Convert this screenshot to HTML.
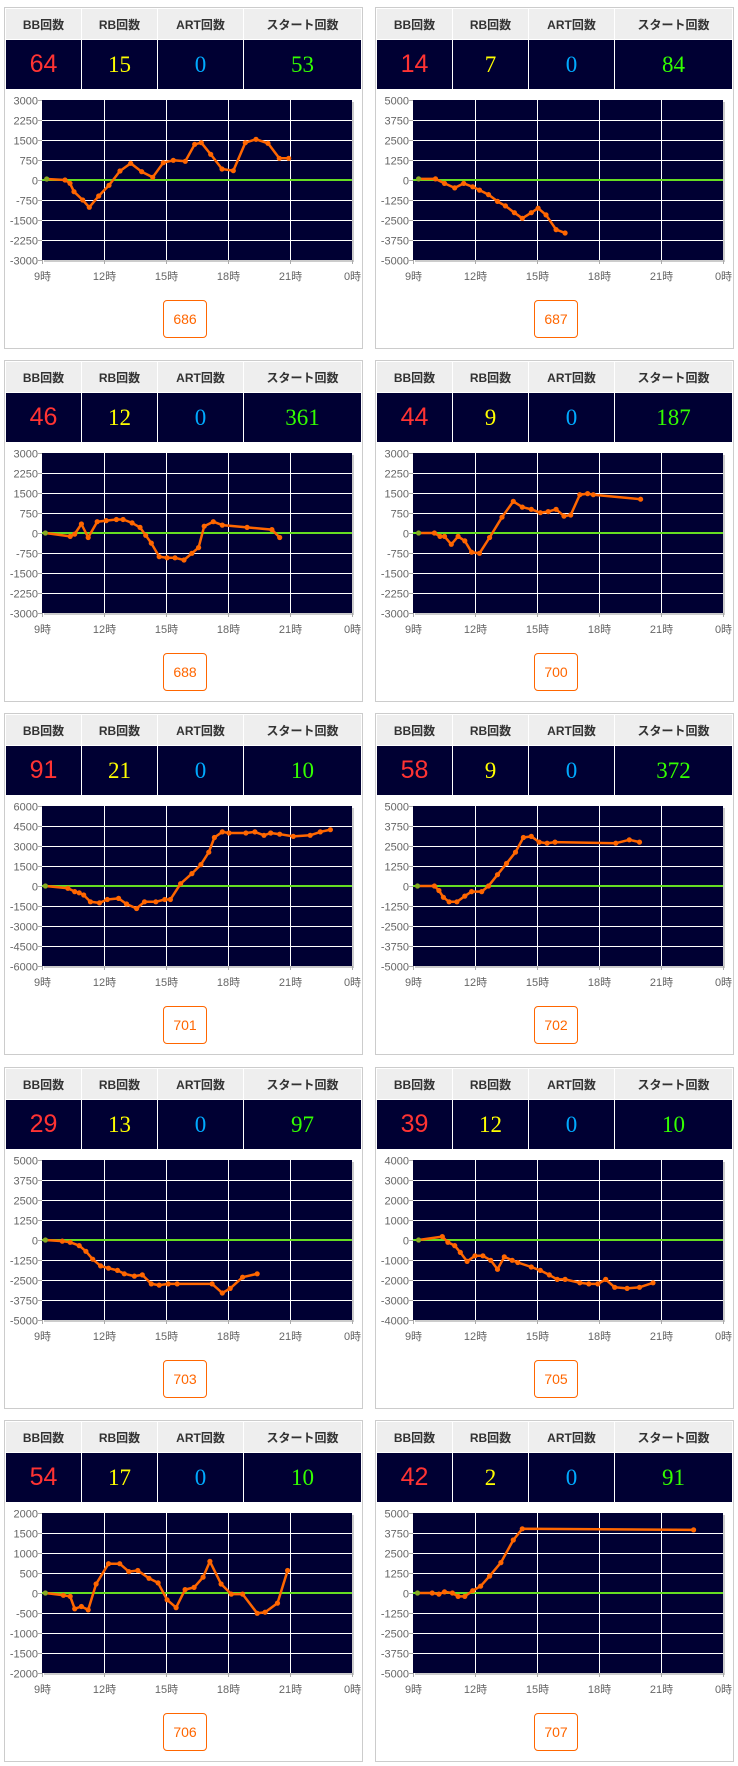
<!DOCTYPE html>
<html><head><meta charset="utf-8">
<style>
body{margin:0;background:#fff;width:738px;height:1766px;position:relative;overflow:hidden;font-family:"Liberation Sans","Noto Sans CJK JP",sans-serif}
.card{position:absolute;width:357px;height:340px;border:1px solid #ccc;background:#fff}
.hdr,.val{position:absolute;left:1px;width:355px;display:flex}
.hdr{top:1px;height:30px;background:#eee}
.val{top:32px;height:49px;background:#000033}
.hdr div,.val div{display:flex;align-items:center;justify-content:center;box-sizing:border-box;border-right:1px solid #fff}
.hdr div{font-size:12px;font-weight:bold;color:#333}
.val div{font-size:23px;font-family:"Liberation Serif",serif}
.c1{width:76px}.c2{width:76px}.c3{width:86px}.c4{width:117px;border-right:none!important}
.btn{position:absolute;left:158px;top:292px;width:42px;height:36px;border:1px solid #f60;border-radius:4px;color:#f60;font-size:14px;display:flex;align-items:center;justify-content:center}
svg{position:absolute;left:0;top:0}
</style></head><body>
<div id="root"></div>
<svg id="s" width="738" height="1766" xmlns="http://www.w3.org/2000/svg"></svg>
<script>
var k=738/655;
var data=[
[64,15,0,53,686,3000,0,88,"zoom"],
[14,7,0,84,687,5000,1,88,[[370,158],[385,158],[393,162],[402,166],[410,162],[418,165],[424,168],[432,172],[440,178],[447,182],[455,188],[462,193],[470,188],[476,184],[483,190],[492,203],[500,206]]],
[46,12,0,361,688,3000,0,401,[[40,472],[62,475],[66,473],[72,464],[78,476],[86,462],[94,461],[103,460],[109,460],[117,463],[124,467],[129,474],[134,481],[141,493],[148,494],[155,494],[163,496],[170,490],[176,485],[181,466],[189,462],[197,465],[219,467],[241,469],[248,476]]],
[44,9,0,187,700,3000,1,401,[[370,472],[384,472],[389,475],[393,475],[399,482],[405,475],[411,479],[417,489],[424,490],[433,476],[444,458],[454,444],[462,449],[470,451],[478,454],[485,453],[492,451],[499,457],[505,456],[513,438],[520,437],[525,438],[567,442]]],
[91,21,0,10,701,6000,0,715,[[40,786],[60,788],[66,791],[70,792],[74,794],[80,800],[88,801],[95,798],[105,797],[112,802],[121,806],[128,800],[138,800],[146,798],[151,798],[160,784],[170,775],[178,767],[185,756],[190,743],[197,738],[203,739],[218,739],[226,738],[234,741],[240,739],[248,740],[260,742],[275,741],[284,738],[293,736]]],
[58,9,0,372,702,5000,1,715,[[369,786],[384,786],[388,790],[392,796],[397,800],[404,800],[411,795],[417,791],[426,791],[432,786],[440,776],[448,766],[456,756],[463,743],[470,742],[477,747],[484,748],[491,747],[545,748],[557,745],[566,747]]],
[29,13,0,97,703,5000,0,1028,[[40,1099],[55,1100],[62,1101],[70,1104],[76,1109],[82,1116],[89,1122],[96,1124],[104,1126],[110,1129],[119,1131],[126,1130],[134,1138],[141,1139],[149,1138],[157,1138],[188,1138],[197,1146],[204,1142],[215,1132],[228,1129]]],
[39,12,0,10,705,4000,1,1028,[[370,1099],[391,1096],[396,1101],[402,1104],[407,1110],[413,1118],[420,1113],[427,1113],[434,1117],[440,1125],[446,1114],[453,1117],[458,1119],[470,1123],[478,1126],[486,1130],[493,1134],[500,1134],[513,1137],[521,1138],[529,1138],[536,1134],[544,1141],[555,1142],[566,1141],[578,1137]]],
[54,17,0,10,706,2000,0,1342,[[40,1413],[56,1415],[62,1416],[66,1427],[72,1425],[78,1428],[85,1405],[96,1387],[106,1387],[114,1394],[122,1393],[132,1400],[140,1404],[148,1419],[156,1426],[164,1410],[172,1408],[180,1399],[186,1385],[196,1405],[205,1414],[215,1414],[228,1431],[235,1430],[246,1422],[255,1393]]],
[42,2,0,91,707,5000,1,1342,[[369,1413],[382,1413],[388,1414],[393,1412],[400,1413],[405,1416],[411,1416],[418,1411],[425,1407],[433,1398],[443,1386],[454,1366],[462,1356],[614,1357]]]
];
var z1=[[140,537],[195,540],[210,550],[222,575],[248,600],[268,622],[296,588],[327,556],[360,513],[392,490],[425,515],[458,532],[490,488],[520,481],[556,484],[584,433],[604,428],[632,463],[666,507],[700,512],[736,428],[768,418],[804,430],[838,475],[866,475]];
var tops=[7,360,713,1067,1420];
var html="",svg="";
data.forEach(function(d,i){
 var col=d[6],row=Math.floor(i/2);
 var cx=col?375:4, cy=tops[row];
 html+='<div class="card" style="left:'+cx+'px;top:'+cy+'px">'+
 '<div class="hdr"><div class="c1">BB回数</div><div class="c2">RB回数</div><div class="c3">ART回数</div><div class="c4">スタート回数</div></div>'+
 '<div class="val"><div class="c1" style="color:#ff3333;font-family:Liberation Sans,sans-serif;font-size:25px">'+d[0]+'</div><div class="c2" style="color:#ffff00">'+d[1]+'</div><div class="c3" style="color:#00aaff">'+d[2]+'</div><div class="c4" style="color:#33ff00">'+d[3]+'</div></div>'+
 '<div class="btn">'+d[4]+'</div></div>';
 var px=cx+38, py=cy+93, W=310, H=160;
 svg+='<rect x="'+(px+2)+'" y="'+(py+2)+'" width="'+W+'" height="'+H+'" fill="#ccc"/>';
 svg+='<rect x="'+px+'" y="'+py+'" width="'+W+'" height="'+H+'" fill="#000033"/>';
 var m=d[5];
 for(var j=0;j<=8;j++){var y=Math.round(py+H*j/8)+0.5;
  if(j>0&&j<8)svg+='<line x1="'+px+'" x2="'+(px+W)+'" y1="'+y+'" y2="'+y+'" stroke="#fff" stroke-width="1"/>';
  svg+='<line x1="'+(px-4)+'" x2="'+px+'" y1="'+y+'" y2="'+y+'" stroke="#aaa"/>';
  var v=m-2*m*j/8; svg+='<text x="'+(px-4)+'" y="'+(y+4)+'" font-size="11" fill="#666" text-anchor="end" font-family="Liberation Sans">'+v+'</text>';}
 for(var j=0;j<=5;j++){var x=Math.round(px+W*j/5)+0.5;
  if(j>0&&j<5)svg+='<line x1="'+x+'" x2="'+x+'" y1="'+py+'" y2="'+(py+H)+'" stroke="#fff"/>';
  svg+='<line x1="'+x+'" x2="'+x+'" y1="'+(py+H)+'" y2="'+(py+H+4)+'" stroke="#aaa"/>';
  svg+='<text x="'+x+'" y="'+(py+H+20)+'" font-size="11" fill="#666" text-anchor="middle" font-family="Liberation Sans,Noto Sans CJK JP,sans-serif">'+[9,12,15,18,21,0][j]+'時</text>';}
 svg+='<line x1="'+px+'" x2="'+(px+W)+'" y1="'+(py+H/2)+'" y2="'+(py+H/2)+'" stroke="#66dd22" stroke-width="2"/>';
 var pts;
 if(d[8]==="zoom"){pts=z1.map(function(p){return [p[0]/3,p[1]/3];});}
 else{var x0=col?365:37,y0=d[7];pts=d[8].map(function(p){return [px+(p[0]-x0)*k,py+(p[1]-y0)*k];});}
 svg+='<polyline fill="none" stroke="#ff6600" stroke-width="2.5" stroke-linejoin="round" points="'+pts.map(function(p){return p[0].toFixed(1)+','+p[1].toFixed(1)}).join(' ')+'"/>';
 pts.forEach(function(p,n){svg+='<circle cx="'+p[0].toFixed(1)+'" cy="'+p[1].toFixed(1)+'" r="2.6" fill="'+(n==0?'#88aa22':'#ff6600')+'"/>';});
});
document.getElementById('root').innerHTML=html;
document.getElementById('s').innerHTML=svg;
</script>
</body></html>
